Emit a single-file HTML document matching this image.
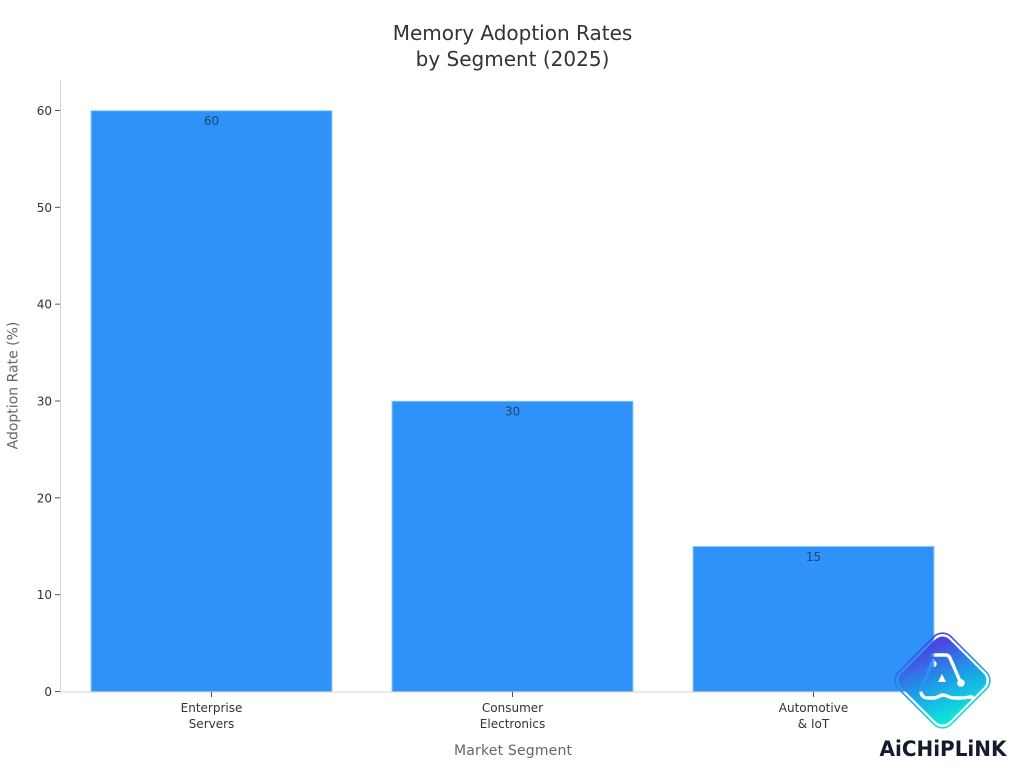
<!DOCTYPE html>
<html lang="en">
<head>
<meta charset="utf-8">
<title>Memory Adoption Rates by Segment (2025)</title>
<style>
html,body{margin:0;padding:0;background:#fff;width:1024px;height:768px;overflow:hidden}
svg{display:block}
text{font-family:"DejaVu Sans","Liberation Sans",sans-serif}
</style>
</head>
<body>
<svg id="chart" xmlns="http://www.w3.org/2000/svg" width="1024" height="768" viewBox="0 0 1024 768">
  <defs>
    <linearGradient id="logo-fill" x1="0" y1="0.3" x2="1" y2="0.7">
      <stop offset="0" stop-color="#4b45e2"/>
      <stop offset="0.5" stop-color="#1f9ae8"/>
      <stop offset="1" stop-color="#0be3da"/>
    </linearGradient>
    <mask id="logo-cutout" maskUnits="userSpaceOnUse" x="880" y="620" width="124" height="120">
      <rect x="880" y="620" width="124" height="120" fill="#ffffff"/>
      <path d="M933 660L921 690" fill="none" stroke="#000000" stroke-width="3" stroke-linecap="round"/>
      <path d="M933 655H946C948 655 949 656 950 658L960 681M921 691C921 696 924 698 928 698H934C938 698 939 695 943 695C947 695 949 698 954 698H961C965 698 968 697 972 697" fill="none" stroke="#000000" stroke-width="3.4" stroke-linecap="round" stroke-linejoin="round"/>
      <circle cx="961" cy="683" r="3.8" fill="#000000"/>
      <circle cx="933.5" cy="664" r="3.2" fill="#000000"/>
      <path d="M942 674L946 682H938Z" fill="#000000"/>
    </mask>
  </defs>
  <rect width="1024" height="768" fill="#ffffff"/>
  <text x="512.5" y="40" text-anchor="middle" font-size="20" fill="#333333">Memory Adoption Rates</text>
  <text x="512.5" y="66" text-anchor="middle" font-size="20" fill="#333333">by Segment (2025)</text>
  <g id="plot"></g>
  <text transform="translate(17.5,385.5) rotate(-90)" text-anchor="middle" font-size="14" fill="#666666">Adoption Rate (%)</text>
  <text x="513" y="755" text-anchor="middle" font-size="14" fill="#666666" textLength="118">Market Segment</text>
  <g>
    <rect x="905.5" y="643.5" width="74" height="74" rx="12" transform="rotate(45 942.5 680.5)" fill="none" stroke="url(#logo-fill)" stroke-width="1.6"/>
    <g mask="url(#logo-cutout)">
      <rect x="908.5" y="646.5" width="68" height="68" rx="10" transform="rotate(45 942.5 680.5)" fill="url(#logo-fill)"/>
    </g>
    <text x="943" y="756" text-anchor="middle" font-size="21" font-weight="700" fill="#141b2d" textLength="127" lengthAdjust="spacingAndGlyphs">AiCHiPLiNK</text>
  </g>
</svg>
<script>
const categories = [["Enterprise", "Servers"], ["Consumer", "Electronics"], ["Automotive", "& IoT"]];
const adoptionValues = [60, 30, 15];
const yTickValues = [0, 10, 20, 30, 40, 50, 60];

const NS = "http://www.w3.org/2000/svg";
const plot = document.getElementById("plot");
const plotLeft = 61, plotRight = 964, plotBottom = 691.8;
const unitHeight = 581 / 60;
const yScale = function (v) { return plotBottom - v * unitHeight; };
const band = (plotRight - plotLeft) / categories.length;
const bandCenter = function (i) { return plotLeft + band * (i + 0.5); };
const barWidth = band * 0.8;

function make(tag, attrs, parent, content) {
  const el = document.createElementNS(NS, tag);
  for (const k in attrs) el.setAttribute(k, attrs[k]);
  if (content !== undefined) el.textContent = content;
  parent.appendChild(el);
  return el;
}

adoptionValues.forEach(function (v, i) {
  const top = yScale(v);
  const bar = make("rect", {
    x: bandCenter(i) - barWidth / 2, y: top, width: barWidth, height: plotBottom - top,
    fill: "#2e92f9", stroke: "#7cc4fb", "stroke-width": 1
  }, plot);
  
  
  const label = make("text", {
    x: bandCenter(i), y: top + 14.2, "text-anchor": "middle", "font-size": 12, fill: "#24476e"
  }, plot, String(v));
  
  
});

const yAxis = make("line", { x1: 60.5, y1: 80, x2: 60.5, y2: 692, stroke: "#d4d4d4", "stroke-width": 1 }, plot);


const xAxis = make("line", { x1: 60, y1: 692, x2: 965, y2: 692, stroke: "#d4d4d4", "stroke-width": 1 }, plot);



yTickValues.forEach(function (t) {
  const y = yScale(t) - 0.3;
  const tick = make("line", { x1: 55, y1: y, x2: 60, y2: y, stroke: "#555555", "stroke-width": 1 }, plot);
  
  
  const label = make("text", { x: 52, y: y + 4.5, "text-anchor": "end", "font-size": 12, fill: "#333333" }, plot, String(t));
  
  
});

categories.forEach(function (lines, i) {
  const x = bandCenter(i);
  const tick = make("line", { x1: x, y1: 692, x2: x, y2: 697, stroke: "#555555", "stroke-width": 1 }, plot);
  
  
  lines.forEach(function (line, j) {
    const label = make("text", { x: x, y: 712 + j * 16, "text-anchor": "middle", "font-size": 12, fill: "#333333" }, plot, line);
    
    
  });
});
</script>
</body>
</html>
